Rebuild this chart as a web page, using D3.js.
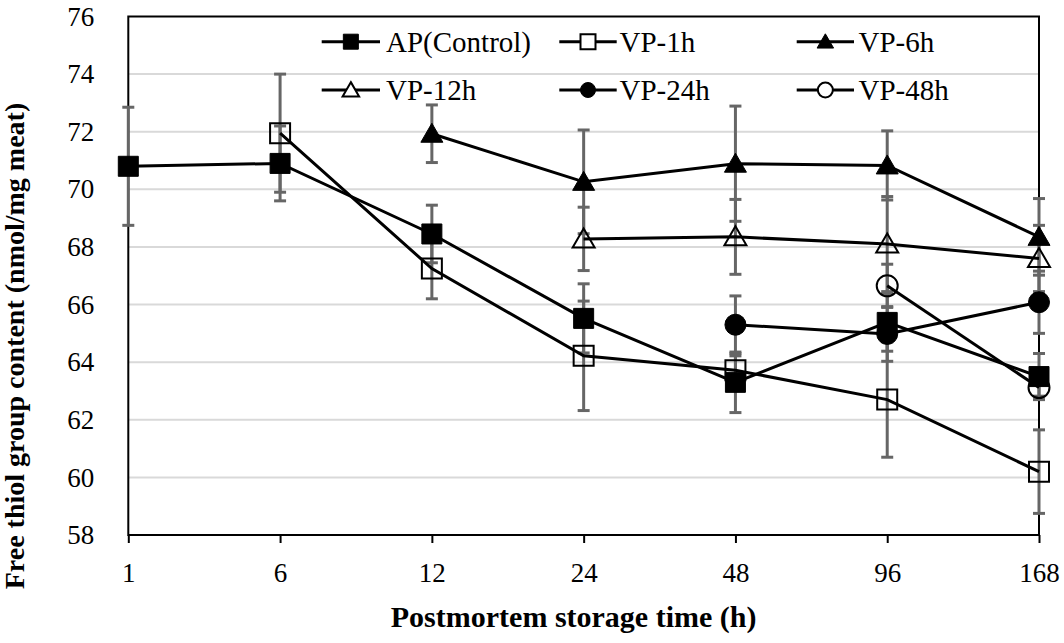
<!DOCTYPE html>
<html><head><meta charset="utf-8">
<script src="https://cdn.jsdelivr.net/npm/d3@7"></script>
<style>
html,body{margin:0;padding:0;background:#fff;}
</style></head>
<body><svg id="chart" width="1064" height="643"></svg>
<script>
const categories = ["1","6","12","24","48","96","168"];
const yTicks = [58,60,62,64,66,68,70,72,74,76];
const seriesNames = ["AP(Control)","VP-1h","VP-6h","VP-12h","VP-24h","VP-48h"];
const apValues   = [70.8, 70.9, 68.45, 65.52, 63.3, 65.38, 63.5];
const apErr      = [2.05, 1.3, 1.0, 1.2, 1.05, 1.0, 0.8];
const vp1Values  = [null, 71.95, 67.25, 64.22, 63.72, 62.7, 60.2];
const vp1Err     = [null, 2.05, 1.05, 1.9, 0.5, 2.0, 1.45];
const vp6Values  = [null, null, 71.93, 70.26, 70.89, 70.83, 68.35];
const vp6Err     = [null, null, 1.0, 1.8, 2.0, 1.2, 1.33];
const vp12Values = [null, null, null, 68.28, 68.35, 68.1, 67.6];
const vp12Err    = [null, null, null, 1.1, 1.3, 1.65, 1.15];
const vp24Values = [null, null, null, null, 65.3, 64.98, 66.08];
const vp24Err    = [null, null, null, null, 1.0, 0.95, 1.08];
const vp48Values = [null, null, null, null, null, 66.65, 63.12];
const vp48Err    = [null, null, null, null, null, 0.75, 0.3];

const markerTypes = ["square","square","triangle","triangle","circle","circle"];
const markerFilled = [true,false,true,false,true,false];
const allValues = [apValues,vp1Values,vp6Values,vp12Values,vp24Values,vp48Values];
const allErr = [apErr,vp1Err,vp6Err,vp12Err,vp24Err,vp48Err];

const FONT = "'Liberation Serif', 'Times New Roman', Times, serif";

const svg = d3.select("#chart");
const L = 128.3, R = 1039, T = 16.5, B = 535;
const x = d3.scalePoint().domain(categories).range([L, R]).padding(0);
const y = d3.scaleLinear().domain([58, 76]).range([B, T]);

// gridlines
svg.append("g").selectAll("line").data(yTicks.filter(t => t > 58 && t < 76)).join("line")
  .attr("x1", L).attr("x2", R).attr("y1", d => y(d)).attr("y2", d => y(d))
  .attr("stroke", "#d9d9d9").attr("stroke-width", 2);

// y axis labels
const yAxis = d3.axisLeft(y).tickValues(yTicks).tickSize(0).tickPadding(34);
const gy = svg.append("g").attr("transform", `translate(${L},0)`).call(yAxis);
gy.attr("font-family", null).attr("font-size", null);
gy.select(".domain").remove();
gy.selectAll("text").style("font-family", FONT).style("font-size", "27px").style("font-weight", "400").attr("fill", "#000");

// x axis
const xAxis = d3.axisBottom(x).tickSize(8).tickPadding(20);
const gx = svg.append("g").attr("transform", `translate(0,${B})`).call(xAxis);
gx.attr("font-family", null).attr("font-size", null);
gx.select(".domain").remove();
gx.selectAll("line").attr("stroke", "#000").attr("stroke-width", 2);
gx.selectAll("text").style("font-family", FONT).style("font-size", "27px").style("font-weight", "400").attr("fill", "#000");

// frame
svg.append("rect").attr("x", L).attr("y", T).attr("width", R - L).attr("height", B - T)
  .attr("fill", "none").attr("stroke", "#000").attr("stroke-width", 2);

function markerPath(type, s) {
  if (type === "square") return `M${-s},${-s}H${s}V${s}H${-s}Z`;
  if (type === "triangle") return `M0,${-s*1.05}L${s*1.1},${s*0.85}L${-s*1.1},${s*0.85}Z`;
  const r = s;
  return `M${r},0A${r},${r} 0 1,1 ${-r},0A${r},${r} 0 1,1 ${r},0Z`;
}

// error bars
allValues.forEach((vals, si) => {
  const pts = vals.map((v, i) => ({v, e: allErr[si][i], c: categories[i]})).filter(d => d.v != null);
  const g = svg.append("g");
  g.selectAll("line.v").data(pts).join("line")
    .attr("x1", d => x(d.c)).attr("x2", d => x(d.c))
    .attr("y1", d => y(d.v + d.e)).attr("y2", d => y(d.v - d.e))
    .attr("stroke", "#666").attr("stroke-width", 3);
  [1, -1].forEach(sg => {
    g.selectAll(null).data(pts).join("line")
      .attr("x1", d => x(d.c) - 6).attr("x2", d => x(d.c) + 6)
      .attr("y1", d => y(d.v + sg * d.e)).attr("y2", d => y(d.v + sg * d.e))
      .attr("stroke", "#666").attr("stroke-width", 3);
  });
});

// lines
const line = d3.line().defined(d => d.v != null).x(d => x(d.c)).y(d => y(d.v));
allValues.forEach((vals) => {
  const pts = vals.map((v, i) => ({v, c: categories[i]}));
  svg.append("path").datum(pts).attr("d", line)
    .attr("fill", "none").attr("stroke", "#000").attr("stroke-width", 3);
});

// markers
allValues.forEach((vals, si) => {
  const pts = vals.map((v, i) => ({v, c: categories[i]})).filter(d => d.v != null);
  svg.append("g").selectAll("path").data(pts).join("path")
    .attr("transform", d => `translate(${x(d.c)},${y(d.v)})`)
    .attr("d", markerPath(markerTypes[si], markerTypes[si] === "circle" ? 10.5 : 10))
    .attr("fill", markerFilled[si] ? "#000" : "none")
    .attr("stroke", "#000").attr("stroke-width", markerFilled[si] ? 1 : 2);
});

// legend
const legCols = [[321.7, 380, 386], [559.3, 616.7, 619.5], [796.7, 854, 858.5]];
const legRows = [41.7, 90];
seriesNames.forEach((name, i) => {
  const col = legCols[i % 3], row = legRows[Math.floor(i / 3)];
  const g = svg.append("g");
  g.append("line").attr("x1", col[0]).attr("x2", col[1]).attr("y1", row).attr("y2", row)
    .attr("stroke", "#000").attr("stroke-width", 3);
  const cx = (col[0] + col[1]) / 2;
  g.append("path").attr("transform", `translate(${cx},${row})`)
    .attr("d", markerPath(markerTypes[i], 7.5))
    .attr("fill", markerFilled[i] ? "#000" : "#fff")
    .attr("stroke", "#000").attr("stroke-width", markerFilled[i] ? 1 : 2);
  g.append("text").attr("x", col[2]).attr("y", row).attr("dy", "0.35em")
    .style("font-family", FONT).style("font-size", "29px").style("font-weight", "400")
    .text(name);
});

// axis titles
svg.append("text").attr("x", (L + R) / 2 - 10).attr("y", 627).attr("text-anchor", "middle")
  .style("font-family", FONT).style("font-size", "30px").style("font-weight", "700")
  .text("Postmortem storage time (h)");
svg.append("text").attr("transform", "translate(24,346) rotate(-90)").attr("text-anchor", "middle")
  .style("font-family", FONT).style("font-size", "28px").style("font-weight", "700")
  .text("Free thiol group content (nmol/mg meat)");
</script></body></html>
